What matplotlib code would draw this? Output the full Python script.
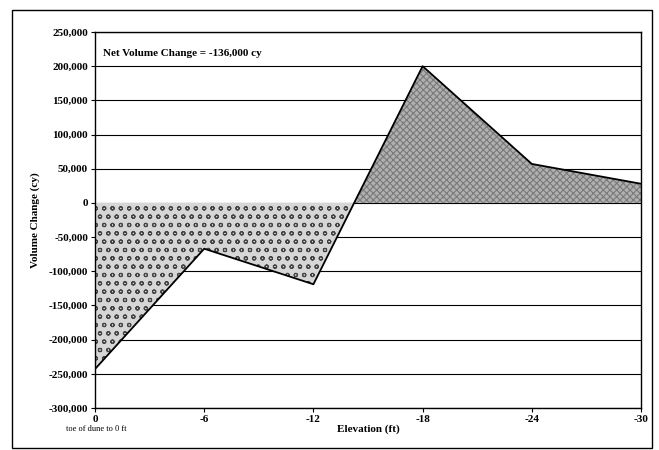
import numpy as np
import matplotlib.pyplot as plt
from matplotlib.patches import Rectangle

# Data
elevation = [0, -6, -12, -18, -24, -30]
volume_change = [-243000, -67000, -119000, 200000, 57000, 28000]
x_ticks = [0, -6, -12, -18, -24, -30]
y_ticks = list(range(-300000, 250001, 50000))
note = "Net Volume Change = -136,000 cy"

plt.rcParams['font.family'] = ['Liberation Serif', 'DejaVu Serif']
plt.rcParams['hatch.linewidth'] = 0.8

fig = plt.figure(figsize=(6.59, 4.5), dpi=100)
ax = fig.add_axes([0.1442, 0.0933, 0.8285, 0.8356])

# outer chart border
fig.patches.append(Rectangle((12 / 659, 2 / 450), 640 / 659, 438 / 450,
                             transform=fig.transFigure, fill=False,
                             edgecolor='black', linewidth=1.0))

x = np.array(elevation, dtype=float)
y = np.array(volume_change, dtype=float)

ax.fill_between(x, y, 0, where=y < 0, interpolate=True,
                facecolor='#d6d6d6', edgecolor='#444444', hatch='oo', linewidth=0)
ax.fill_between(x, y, 0, where=y > 0, interpolate=True,
                facecolor='#b0b0b0', edgecolor='#7a7a7a', hatch='xxxxx', linewidth=0)
ax.plot(x, y, color='black', linewidth=1.3)

for v in y_ticks:
    ax.axhline(v, color='black', linewidth=0.8, zorder=0.5)

ax.set_xlim(0, -30)
ax.set_ylim(-300000, 250000)
ax.set_xticks(x_ticks)
ax.set_xticklabels([str(t) for t in x_ticks])
ax.set_yticks(y_ticks)
ax.set_yticklabels([f"{t:,}" for t in y_ticks])
ax.tick_params(direction='out', length=3, width=0.8, labelsize=8, pad=2)
for lbl in ax.get_xticklabels() + ax.get_yticklabels():
    lbl.set_fontweight('bold')
for s in ax.spines.values():
    s.set_linewidth(1.0)

ax.set_xlabel('Elevation (ft)', fontsize=8, fontweight='bold', labelpad=0)
ax.set_ylabel('Volume Change (cy)', fontsize=8, fontweight='bold', labelpad=6)
ax.text(0.015, 0.955, note, transform=ax.transAxes, fontsize=8,
        fontweight='bold', va='top', ha='left')
fig.text(66 / 659, 1 - 429 / 450, 'toe of dune to 0 ft', fontsize=6,
         va='center', ha='left')

fig.savefig('out.png', dpi=100)
